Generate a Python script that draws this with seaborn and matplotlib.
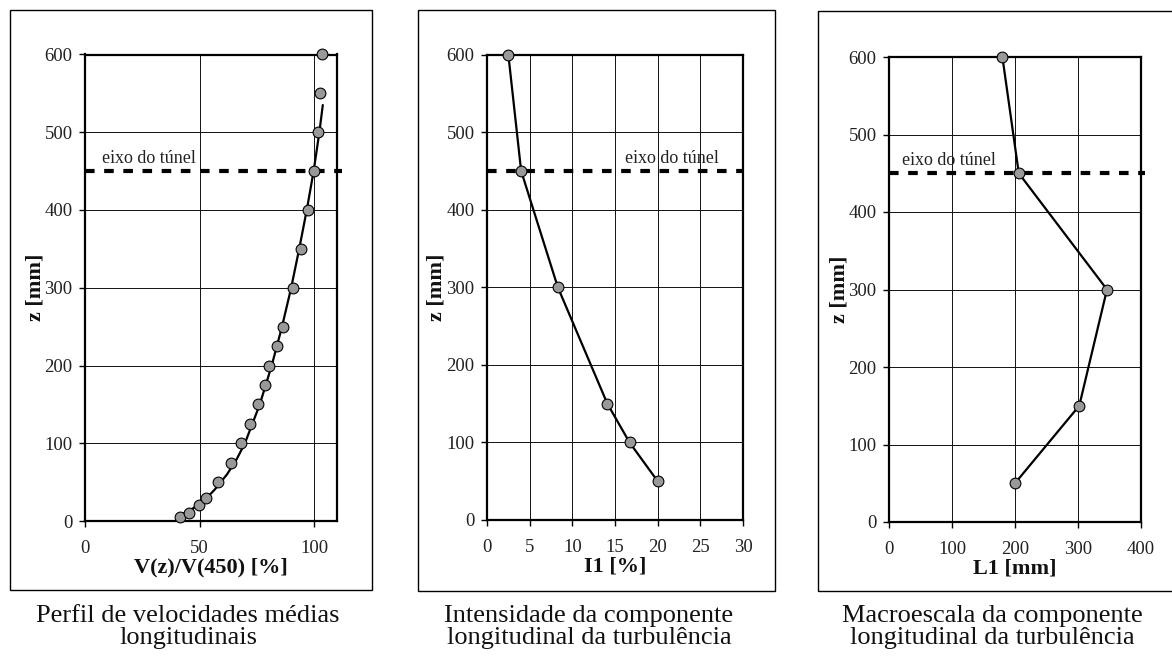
import matplotlib
matplotlib.use("Agg")
import matplotlib.pyplot as plt
import seaborn as sns
import pandas as pd
from matplotlib.patches import Rectangle

# ---------------- data ----------------
# Panel 1: mean velocity profile (measured points)
v_z = [5, 10, 21, 30, 50, 75, 100, 125, 150, 175, 200, 225, 250, 300, 350, 400, 450, 500, 550, 600]
v_pct = [41.4, 45.5, 49.7, 52.9, 58.1, 63.7, 68.3, 72.1, 75.3, 78.5, 80.4, 83.6, 86.4, 90.7, 94.3, 97.2, 99.9, 101.5, 102.5, 103.6]
# Panel 1: fitted curve
fit_z = [8, 15, 25, 40, 60, 80, 100, 150, 200, 250, 300, 350, 400, 450, 500, 535]
fit_pct = [42.0, 46.5, 51.5, 56.5, 62.0, 66.3, 69.8, 76.3, 81.5, 86.0, 90.0, 93.5, 96.8, 99.8, 102.3, 103.8]
# Panel 2: turbulence intensity
i_z = [600, 450, 300, 150, 100, 50]
i_pct = [2.5, 4.0, 8.3, 14.1, 16.7, 20.0]
# Panel 3: integral length scale
l_z = [600, 450, 300, 150, 50]
l_mm = [180, 206, 346, 302, 200]

axis_line_z = 450
label_axis = "eixo do túnel"
xlabels = ["V(z)/V(450) [%]", "I1 [%]", "L1 [mm]"]
ylabel = "z [mm]"
captions = ["Perfil de velocidades médias\nlongitudinais",
            "Intensidade da componente\nlongitudinal da turbulência",
            "Macroescala da componente\nlongitudinal da turbulência"]
xlims = [(0, 110), (0, 30), (0, 400)]
xticks = [[0, 50, 100], [0, 5, 10, 15, 20, 25, 30], [0, 100, 200, 300, 400]]
yticks = [0, 100, 200, 300, 400, 500, 600]

# ---------------- style ----------------
sns.set_theme(style="white")
plt.rcParams['font.family'] = ['Liberation Serif', 'DejaVu Serif']
plt.rcParams['axes.unicode_minus'] = False

W, H = 1172, 659
fig = plt.figure(figsize=(W / 100, H / 100), dpi=100)
fig.patch.set_facecolor("white")

def fr(l, t, r, b):
    return [l / W, 1 - b / H, (r - l) / W, (b - t) / H]

axes_px = [(85, 54.5, 337, 521), (487, 54.5, 743, 520), (889, 57, 1141, 522)]
frames_px = [(10, 10, 372, 590), (418, 10, 775, 591), (818, 11, 1180, 591)]
cap_x = [188, 589, 992]
text_x = [7.3, 16.2, 20.6]
dash_ext = [1.02, 1.0, 1.016]

for (l, t, r, b) in frames_px:
    fig.patches.append(Rectangle((l / W, 1 - b / H), (r - l) / W, (b - t) / H,
                                 transform=fig.transFigure, fill=False,
                                 edgecolor="black", linewidth=1.0, zorder=0))

marker_kw = dict(color="#999999", edgecolor="black", linewidth=0.8, s=60, zorder=5)

axs = []
for i in range(3):
    ax = fig.add_axes(fr(*axes_px[i]))
    axs.append(ax)
    ax.set_facecolor("white")
    ax.set_xlim(*xlims[i])
    ax.set_ylim(0, 600)
    ax.set_xticks(xticks[i])
    ax.set_yticks(yticks)
    ax.grid(True, color="#111111", linewidth=0.7)
    ax.set_axisbelow(True)
    for s in ax.spines.values():
        s.set_visible(True)
        s.set_color("black")
        s.set_linewidth(1.6)
    ax.tick_params(axis="both", which="major", direction="out", length=4, width=1,
                   color="black", labelsize=13.5, labelcolor="#222222",
                   bottom=True, left=True, pad=5)
    ax.tick_params(axis="x", pad=10)
    # tunnel axis dashed line
    ax.axhline(axis_line_z, xmin=0, xmax=dash_ext[i], color="black", linewidth=3,
               linestyle=(0, (2.3, 2.3)), clip_on=False, zorder=4)
    ax.text(text_x[i], axis_line_z + 5, label_axis, fontsize=13, ha="left",
            va="bottom", color="#222222")
    fig.text(cap_x[i] / W, 1 - 627 / H, captions[i], fontsize=19, ha="center",
             va="center", linespacing=1.02, color="#111111")

# Panel 1
df_fit = pd.DataFrame({"x": fit_pct, "z": fit_z})
df_v = pd.DataFrame({"x": v_pct, "z": v_z})
sns.lineplot(data=df_fit, x="x", y="z", sort=False, estimator=None, color="black",
             linewidth=1.6, ax=axs[0], zorder=4)
sns.scatterplot(data=df_v, x="x", y="z", ax=axs[0], clip_on=False, **marker_kw)

# Panel 2
df_i = pd.DataFrame({"x": i_pct, "z": i_z})
sns.lineplot(data=df_i, x="x", y="z", sort=False, estimator=None, color="black",
             linewidth=1.6, ax=axs[1], zorder=4)
sns.scatterplot(data=df_i, x="x", y="z", ax=axs[1], clip_on=False, **marker_kw)

# Panel 3
df_l = pd.DataFrame({"x": l_mm, "z": l_z})
sns.lineplot(data=df_l, x="x", y="z", sort=False, estimator=None, color="black",
             linewidth=1.6, ax=axs[2], zorder=4)
sns.scatterplot(data=df_l, x="x", y="z", ax=axs[2], clip_on=False, **marker_kw)

for i, ax in enumerate(axs):
    ax.set_xlabel(xlabels[i], fontsize=16, fontweight="bold", color="#111111")
    ax.set_ylabel(ylabel, fontsize=16, fontweight="bold", color="#111111")
    ax.xaxis.set_label_coords(0.5, -0.099)
    ax.xaxis.label.set_va("center")
    ax.yaxis.set_label_coords(-0.196, 0.5)
    ax.yaxis.label.set_va("center")
    if ax.get_legend():
        ax.get_legend().remove()

fig.savefig("out.png", dpi=100, facecolor="white")
